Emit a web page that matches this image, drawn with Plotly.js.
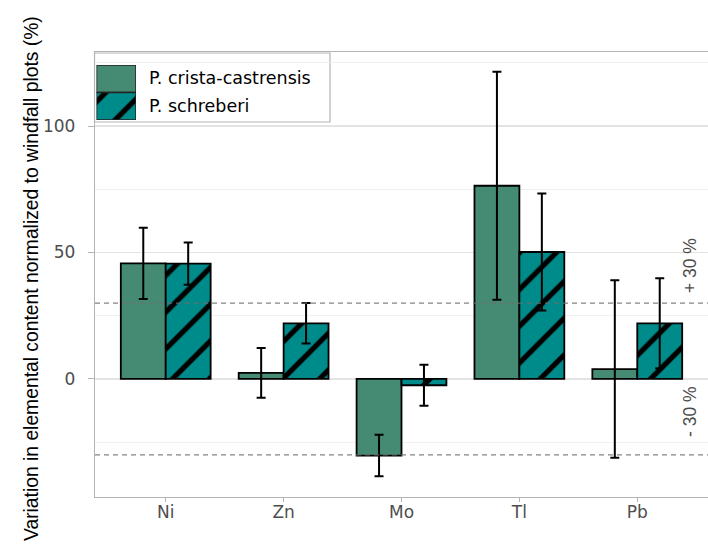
<!DOCTYPE html>
<html>
<head>
<meta charset="utf-8">
<script src="https://cdn.plot.ly/plotly-3.0.1.min.js"></script>
<style>html,body{margin:0;padding:0;background:#fff;}#chart{width:708px;height:548px;}</style>
</head>
<body>
<div id="chart"></div>
<script>
// ---- data ----
var categories = ['Ni', 'Zn', 'Mo', 'Tl', 'Pb'];
var seriesNames = ['P. crista-castrensis', 'P. schreberi'];
var cristaValues = [45.7, 2.4, -30.3, 76.4, 3.9];
var cristaErrors = [14.1, 9.8, 8.2, 45.1, 35.1];
var schreberiValues = [45.6, 22.0, -2.5, 50.2, 22.0];
var schreberiErrors = [8.4, 8.0, 8.1, 23.1, 17.8];
var thresholdValues = [30, -30];
var thresholdLabels = ['+ 30 %', '- 30 %'];
var thresholdLabelPos = [44.7, -13];
var yTickVals = [0, 50, 100];
var yTitle = 'Variation in elemental content normalized to windfall plots (%)';

var GREEN = '#458B74';
var TEAL = '#008B8B';
var FONT = 'Liberation Sans, Arial, sans-serif';
var WFONT = 'DejaVu Sans, Liberation Sans, sans-serif';

var errStyle = function (arr) {
  return {type: 'data', array: arr, visible: true, color: '#000', thickness: 2, width: 4.5};
};
var hatch = {shape: '/', fgcolor: '#000', bgcolor: TEAL, fgopacity: 1, size: 26, solidity: 0.2};

var traces = [
  {
    type: 'bar', name: seriesNames[0], x: categories, y: cristaValues,
    marker: {color: GREEN, line: {color: '#000', width: 1.8}},
    error_y: errStyle(cristaErrors), showlegend: false
  },
  {
    type: 'bar', name: seriesNames[1], x: categories, y: schreberiValues,
    marker: {color: TEAL, line: {color: '#000', width: 1.8}, pattern: hatch},
    error_y: errStyle(schreberiErrors), showlegend: false
  },
  // legend keys drawn on a small helper axis
  {
    type: 'bar', orientation: 'h', x: [1], y: [1], width: [1],
    xaxis: 'x2', yaxis: 'y2', hoverinfo: 'skip', showlegend: false,
    marker: {color: GREEN, line: {color: '#222', width: 1.5}}
  },
  {
    type: 'bar', orientation: 'h', x: [1], y: [0], width: [1],
    xaxis: 'x2', yaxis: 'y2', hoverinfo: 'skip', showlegend: false,
    marker: {color: TEAL, line: {color: '#222', width: 1.5}, pattern: hatch}
  }
];

var shapes = thresholdValues.map(function (v) {
  return {type: 'line', xref: 'paper', yref: 'y', x0: 0, x1: 1, y0: v, y1: v, layer: 'above',
    line: {color: 'rgba(110,110,110,0.85)', width: 1.2, dash: '5px,4px'}};
});
shapes.push({type: 'rect', xref: 'x2 domain', yref: 'y2 domain', x0: -0.05, x1: 5.91, y0: -0.036, y1: 1.218,
  layer: 'below', fillcolor: '#fff', line: {color: '#b3b3b3', width: 1.2}});

var annotations = thresholdLabels.map(function (t, i) {
  return {text: t, xref: 'paper', yref: 'y', x: 0.971, y: thresholdLabelPos[i], showarrow: false,
    textangle: -90, font: {family: FONT, size: 17.5, color: '#4d4d4d'}, xanchor: 'center', yanchor: 'middle'};
});
seriesNames.forEach(function (n, i) {
  annotations.push({text: n, xref: 'paper', yref: 'paper', x: (147 - 95) / 613, y: (497 - (i === 0 ? 78 : 106)) / 445,
    xanchor: 'left', yanchor: 'middle', showarrow: false, font: {family: WFONT, size: 17.5, color: '#000'}});
});
annotations.push({text: yTitle, xref: 'paper', yref: 'paper', x: (31 - 95) / 613, y: (497 - 279) / 445,
  xanchor: 'center', yanchor: 'middle', textangle: -90, showarrow: false,
  font: {family: FONT, size: 19.3, color: '#000'}});

var layout = {
  width: 708, height: 548,
  margin: {l: 95, r: 0, t: 52, b: 51, pad: 0},
  paper_bgcolor: '#fff', plot_bgcolor: 'rgba(0,0,0,0)',
  barmode: 'group', bargap: 0.238, bargroupgap: 0,
  showlegend: false,
  xaxis: {
    type: 'category', range: [-0.6, 4.6], showgrid: false, zeroline: false,
    showline: true, mirror: true, linecolor: '#b3b3b3', linewidth: 1.2,
    ticks: 'outside', ticklen: 4, tickcolor: '#b3b3b3', tickwidth: 1, ticklabelstandoff: -5,
    tickfont: {family: WFONT, size: 17, color: '#4d4d4d'}
  },
  yaxis: {
    range: [-46.7, 129.3], tickvals: yTickVals, showgrid: true, gridcolor: '#e3e3e3', gridwidth: 1.2,
    zeroline: false, showline: true, linecolor: '#b3b3b3', linewidth: 1.2,
    ticks: 'outside', ticklen: 6, tickcolor: '#b3b3b3', tickwidth: 1, ticklabelstandoff: 9,
    tickfont: {family: WFONT, size: 17, color: '#4d4d4d'},
    minor: {dtick: 25, tick0: 25, showgrid: true, gridcolor: '#ededed', gridwidth: 0.8},
    automargin: false
  },
  xaxis2: {domain: [0.00245, 0.0669], range: [0, 1], anchor: 'y2', visible: false, fixedrange: true},
  yaxis2: {domain: [0.8472, 0.9708], range: [-0.5, 1.5], anchor: 'x2', visible: false, fixedrange: true},
  shapes: shapes,
  annotations: annotations
};

Plotly.newPlot('chart', traces, layout, {staticPlot: true, displayModeBar: false});
</script>
</body>
</html>
